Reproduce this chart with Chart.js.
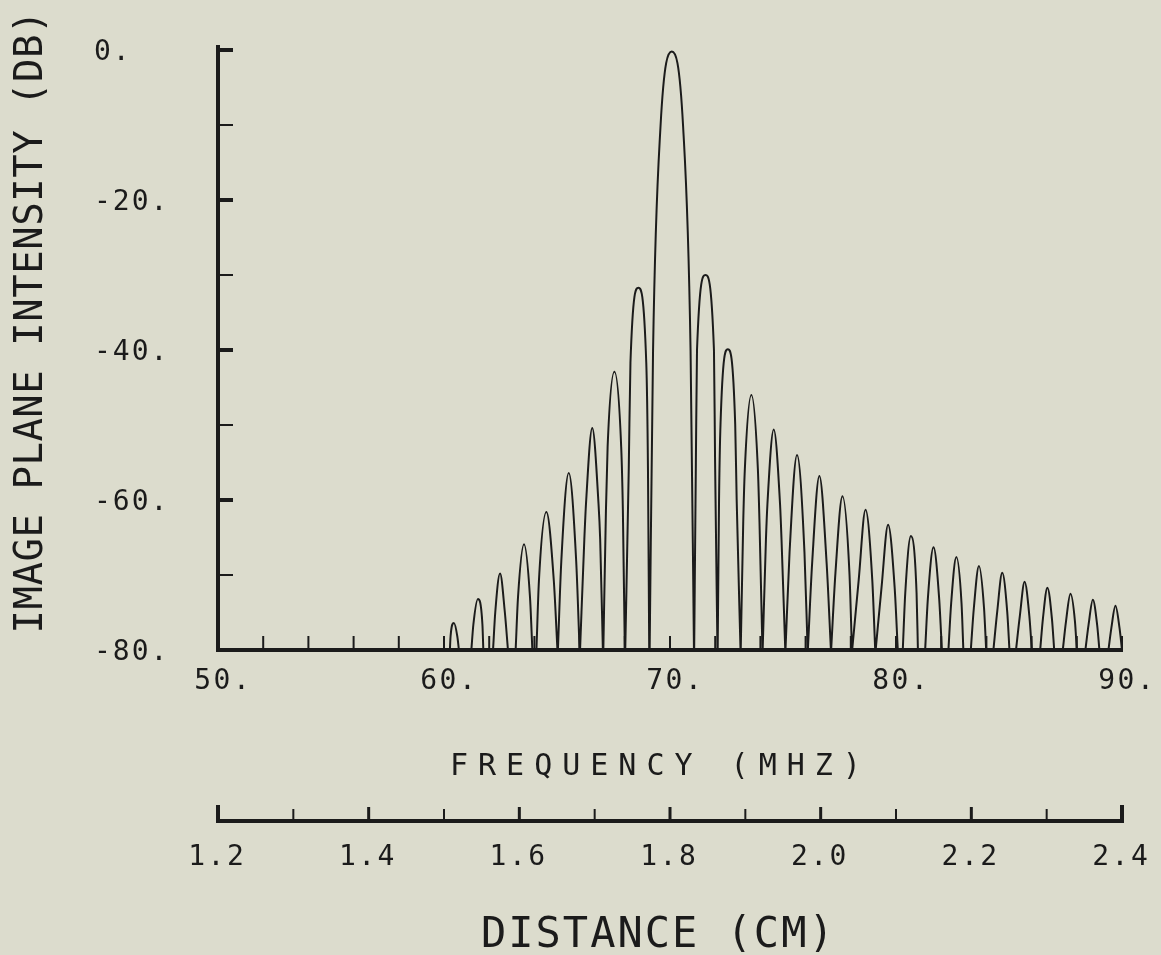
<!DOCTYPE html>
<html>
<head>
<meta charset="utf-8">
<script src="https://cdn.jsdelivr.net/npm/chart.js@4.4.0/dist/chart.umd.min.js"></script>
<style>
  html, body { margin: 0; padding: 0; background: #dcdccd; }
  canvas { display: block; }
</style>
</head>
<body>
<canvas id="c" width="1161" height="955"></canvas>
<script>
// ---------------- data ----------------
const FLOOR_DB = -80;

// one entry per lobe of the response (MHz / dB)
const lobePeakMHz  = [60.44, 61.50, 62.48, 63.54, 64.53, 65.52, 66.56, 67.54, 68.60, 70.08,
                      71.57, 72.56, 73.60, 74.59, 75.62, 76.61, 77.63, 78.65, 79.65, 80.66,
                      81.66, 82.67, 83.67, 84.70, 85.69, 86.70, 87.72, 88.71, 89.71];
const lobePeakDb   = [-76.4, -73.2, -69.8, -65.9, -61.6, -56.4, -50.4, -42.9, -31.7, -0.2,
                      -30.0, -39.9, -46.0, -50.6, -54.0, -56.8, -59.5, -61.3, -63.3, -64.8,
                      -66.3, -67.6, -68.8, -69.7, -70.9, -71.7, -72.5, -73.3, -74.1];
// where each lobe leaves / returns to the -80 dB floor
const lobeStartMHz = [60.26, 61.21, 62.17, 63.17, 64.09, 65.04, 66.02, 67.05, 68.02, 69.10,
                      71.07, 72.11, 73.13, 74.10, 75.11, 76.10, 77.13, 78.06, 79.10, 80.30,
                      81.29, 82.32, 83.31, 84.31, 85.31, 86.38, 87.38, 88.38, 89.40];
const lobeEndMHz   = [60.66, 61.74, 62.83, 63.91, 65.02, 66.00, 67.03, 68.00, 69.08, 71.06,
                      72.10, 73.12, 74.09, 75.10, 76.09, 77.12, 78.05, 79.08, 80.08, 80.97,
                      82.03, 82.98, 83.99, 85.02, 86.01, 87.00, 88.00, 89.00, 90.00];
// lobe width (MHz) halfway between its peak and the floor
const lobeHalfWidth = [0.30, 0.40, 0.42, 0.53, 0.66, 0.66, 0.70, 0.75, 0.85, 1.66,
                       0.85, 0.78, 0.72, 0.69, 0.66, 0.64, 0.62, 0.60, 0.58, 0.50,
                       0.50, 0.46, 0.45, 0.44, 0.42, 0.40, 0.40, 0.38, 0.36];
// lobe width (MHz) 10 dB below its peak (tall lobes only)
const TOP_DROP_DB = 10;
const lobeTopWidth = [null, null, null, null, null, null, 0.55, 0.60, 0.70, 1.00,
                      0.75, 0.65, 0.58, 0.56, null, null, null, null, null, null,
                      null, null, null, null, null, null, null, null, null];

// axes
const freqMin = 50, freqMax = 90;
const dbMin = -80, dbMax = 0;
const distMin = 1.2, distMax = 2.4;
const freqTickValues = [50, 60, 70, 80, 90];
const freqTickLabels = ['50.', '60.', '70.', '80.', '90.'];
const freqMinorValues = [50, 52, 54, 56, 58, 60, 62, 64, 66, 68, 70, 72, 74, 76, 78, 80, 82, 84, 86, 88, 90];
const dbTickValues = [0, -20, -40, -60, -80];
const dbTickLabels = ['0.', '-20.', '-40.', '-60.', '-80.'];
const dbMinorValues = [0, -10, -20, -30, -40, -50, -60, -70, -80];
const distTickValues = [1.2, 1.4, 1.6, 1.8, 2.0, 2.2, 2.4];
const distTickLabels = ['1.2', '1.4', '1.6', '1.8', '2.0', '2.2', '2.4'];
const distMinorValues = [1.2, 1.3, 1.4, 1.5, 1.6, 1.7, 1.8, 1.9, 2.0, 2.1, 2.2, 2.3, 2.4];
const yTitle = 'IMAGE PLANE INTENSITY (DB)';
const xTitle = 'FREQUENCY (MHZ)';
const x2Title = 'DISTANCE (CM)';

// ---------------- build the curve points from the table ----------------
// each lobe is its own line segment (separated by a gap point) so the
// monotone spline keeps the sharp nulls at the floor
const curve = [{ x: freqMin, y: FLOOR_DB }, { x: lobeStartMHz[0], y: FLOOR_DB }];
for (let i = 0; i < lobePeakMHz.length; i++) {
  const f = lobePeakMHz[i], p = lobePeakDb[i];
  const halfDb = (p + FLOOR_DB) / 2;
  const prevEnd = i === 0 ? freqMin : lobeEndMHz[i - 1];
  curve.push({ x: (prevEnd + lobeStartMHz[i]) / 2, y: null });
  curve.push({ x: lobeStartMHz[i], y: FLOOR_DB });
  curve.push({ x: f - lobeHalfWidth[i] / 2, y: halfDb });
  if (lobeTopWidth[i] !== null) curve.push({ x: f - lobeTopWidth[i] / 2, y: p - TOP_DROP_DB });
  curve.push({ x: f, y: p });
  if (lobeTopWidth[i] !== null) curve.push({ x: f + lobeTopWidth[i] / 2, y: p - TOP_DROP_DB });
  curve.push({ x: f + lobeHalfWidth[i] / 2, y: halfDb });
  curve.push({ x: lobeEndMHz[i], y: FLOOR_DB });
}

// ---------------- styling ----------------
const INK = '#1b1b1b';
const PAPER = '#dcdccd';
const MONO = '"DejaVu Sans Mono", "Liberation Mono", monospace';

function spacedText(ctx, text, x, y, size, spacing, align) {
  ctx.font = size + 'px ' + MONO;
  ctx.letterSpacing = spacing + 'px';
  const n = text.length;
  const w = n * (size * 0.602) + (n - 1) * spacing;
  let sx = x;
  if (align === 'center') sx = x - w / 2;
  else if (align === 'right') sx = x - w;
  ctx.textAlign = 'left';
  ctx.fillText(text, sx, y);
}

const paperPlugin = {
  id: 'paper',
  beforeDraw(chart) {
    const ctx = chart.ctx;
    ctx.save();
    ctx.fillStyle = PAPER;
    ctx.fillRect(0, 0, chart.width, chart.height);
    ctx.restore();
  }
};

const plotterAxes = {
  id: 'plotterAxes',
  afterDraw(chart) {
    const ctx = chart.ctx;
    const xs = chart.scales.x, ys = chart.scales.y, ds = chart.scales.x2;
    const xl = xs.getPixelForValue(freqMin), xr = xs.getPixelForValue(freqMax);
    const yt = ys.getPixelForValue(dbMax), yb = ys.getPixelForValue(dbMin);
    ctx.save();
    ctx.strokeStyle = INK;
    ctx.fillStyle = INK;
    ctx.lineCap = 'butt';
    const seg = (x1, y1, x2, y2, w) => {
      ctx.lineWidth = w;
      ctx.beginPath(); ctx.moveTo(x1, y1); ctx.lineTo(x2, y2); ctx.stroke();
    };

    // y axis
    seg(xl, yt - 5, xl, yb + 2, 4);
    dbMinorValues.forEach(v => {
      const y = ys.getPixelForValue(v);
      const major = dbTickValues.includes(v);
      seg(xl, y, xl + 15, y, major ? 4 : 2);
    });

    // frequency axis
    seg(xl - 2, yb, xr + 1, yb, 4);
    freqMinorValues.forEach(v => {
      const x = xs.getPixelForValue(v);
      seg(x, yb, x, yb - 14, 2);
    });

    // distance axis (same width as the frequency axis)
    const yd = 821;
    const dl = ds.getPixelForValue(distMin), dr = ds.getPixelForValue(distMax);
    seg(dl - 2, yd, dr + 2, yd, 4);
    distMinorValues.forEach(v => {
      const x = ds.getPixelForValue(v);
      const end = (v === distMin || v === distMax);
      const major = distTickValues.some(t => Math.abs(t - v) < 1e-9);
      seg(x, yd, x, yd - (end ? 16 : (major ? 14 : 12)), end ? 4 : (major ? 3 : 2));
    });

    // tick labels
    ctx.textBaseline = 'alphabetic';
    dbTickValues.forEach((v, i) => {
      const y = ys.getPixelForValue(v);
      spacedText(ctx, dbTickLabels[i], 94, y + 10, 28, 2, 'left');
    });
    freqTickValues.forEach((v, i) => {
      const x = xs.getPixelForValue(v);
      spacedText(ctx, freqTickLabels[i], x + 4, 689, 28, 2.5, 'center');
    });
    distTickValues.forEach((v, i) => {
      const x = ds.getPixelForValue(v);
      spacedText(ctx, distTickLabels[i], x - 2, 865, 28, 2.5, 'center');
    });

    // axis titles
    spacedText(ctx, xTitle, 450, 775, 30, 10, 'left');
    spacedText(ctx, x2Title, 481, 947, 42, 2, 'left');

    ctx.save();
    ctx.translate(42, 322);
    ctx.rotate(-Math.PI / 2);
    spacedText(ctx, yTitle, 0, 0, 39, 0.5, 'center');
    ctx.restore();

    ctx.restore();
  }
};

new Chart(document.getElementById('c'), {
  type: 'line',
  data: {
    datasets: [{
      data: curve,
      xAxisID: 'x',
      yAxisID: 'y',
      borderColor: INK,
      borderWidth: 2,
      pointRadius: 0,
      fill: false,
      spanGaps: false,
      cubicInterpolationMode: 'monotone'
    }]
  },
  options: {
    responsive: false,
    animation: false,
    devicePixelRatio: 1,
    layout: { padding: { left: 218, top: 50, right: 39, bottom: 305 } },
    plugins: { legend: { display: false }, tooltip: { enabled: false }, title: { display: false } },
    scales: {
      x: { type: 'linear', min: freqMin, max: freqMax, display: false },
      y: { type: 'linear', min: dbMin, max: dbMax, display: false },
      x2: { type: 'linear', axis: 'x', position: 'bottom', min: distMin, max: distMax, display: false }
    }
  },
  plugins: [paperPlugin, plotterAxes]
});
</script>
</body>
</html>
